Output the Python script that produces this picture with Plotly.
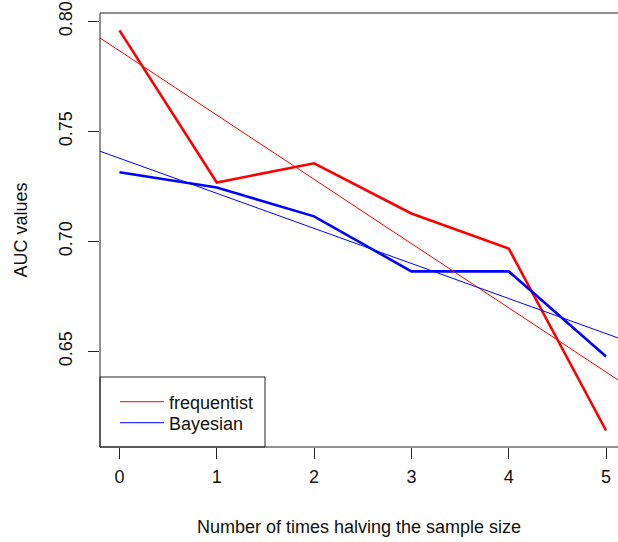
import numpy as np
import plotly.graph_objects as go

# Data
halvings = [0, 1, 2, 3, 4, 5]
auc_frequentist = [0.7959, 0.7268, 0.7355, 0.7127, 0.6968, 0.6141]
auc_bayesian = [0.7314, 0.7245, 0.7114, 0.6864, 0.6864, 0.6477]
series_names = ["frequentist", "Bayesian"]
series_colors = ["#FF0000", "#0000FF"]
y_ticks = [0.65, 0.70, 0.75, 0.80]
x_ticks = [0, 1, 2, 3, 4, 5]

x_range = [-0.2, 5.123]
y_range = [0.6066, 0.8038]

FONT = "Arial, 'Liberation Sans', Arimo, sans-serif"
FRAME = "#222222"

PLOT_W, PLOT_H = 518, 434

fig = go.Figure()

for name, vals, col in zip(series_names, [auc_frequentist, auc_bayesian], series_colors):
    # observed series (thick)
    fig.add_trace(go.Scatter(x=halvings, y=vals, mode="lines",
                             line=dict(color=col, width=2.6),
                             showlegend=False, hoverinfo="x+y", name=name))

legend_ids = ["legend", "legend2"]
for name, vals, col, lid in zip(series_names, [auc_frequentist, auc_bayesian], series_colors, legend_ids):
    # least-squares trend line (thin), spanning the full plot width
    slope, intercept = np.polyfit(halvings, vals, 1)
    xs = np.array(x_range)
    fig.add_trace(go.Scatter(x=xs, y=intercept + slope * xs, mode="lines",
                             line=dict(color=col, width=1),
                             showlegend=True, name=name, legend=lid))

# plot frame: left, bottom and top sides (the right side lies beyond the image edge)
for x0, y0, x1, y1 in [(0, 0, 0, 1), (0, 0, 1.02, 0), (0, 1, 1.02, 1)]:
    fig.add_shape(type="line", xref="paper", yref="paper", x0=x0, y0=y0, x1=x1, y1=y1,
                  line=dict(color=FRAME, width=1), layer="above")

# legend frame (R-style box in the lower-left corner)
fig.add_shape(type="rect", xref="paper", yref="paper",
              x0=0, x1=165 / PLOT_W, y0=0, y1=70 / PLOT_H,
              line=dict(color=FRAME, width=1), fillcolor="white", layer="below")

legend_common = dict(xanchor="left", yanchor="middle", bgcolor="rgba(0,0,0,0)",
                     borderwidth=0, itemwidth=44,
                     font=dict(family=FONT, size=18, color="#111111"))

fig.update_layout(
    width=618, height=542,
    margin=dict(l=100, r=0, t=13, b=95),
    paper_bgcolor="white", plot_bgcolor="white",
    font=dict(family=FONT, size=18, color="#111111"),
    showlegend=True,
    hovermode="closest",
    legend=dict(x=15 / PLOT_W, y=45 / PLOT_H, **legend_common),
    legend2=dict(x=15 / PLOT_W, y=24 / PLOT_H, **legend_common),
    xaxis=dict(range=x_range, tickvals=x_ticks, ticktext=[str(v) for v in x_ticks],
               showgrid=False, zeroline=False, showspikes=False, showline=False,
               ticks="outside", ticklen=11, tickcolor=FRAME, tickwidth=1,
               ticklabelstandoff=2, ticklabeloverflow="allow",
               title=dict(text="Number of times halving the sample size",
                          font=dict(size=18), standoff=34)),
    yaxis=dict(range=y_range, tickvals=y_ticks, ticktext=[f"{v:.2f}" for v in y_ticks],
               tickangle=-90,
               showgrid=False, zeroline=False, showspikes=False, showline=False,
               ticks="outside", ticklen=11, tickcolor=FRAME, tickwidth=1,
               ticklabelstandoff=9, ticklabeloverflow="allow",
               title=dict(text="AUC values", font=dict(size=18), standoff=23)),
)

# remove the browser's default 8px body margin so the figure fills the window exactly
fig.write_html("out.html",
               config={"displayModeBar": False},
               post_script="document.body.style.margin='0';document.body.style.overflow='hidden';")
